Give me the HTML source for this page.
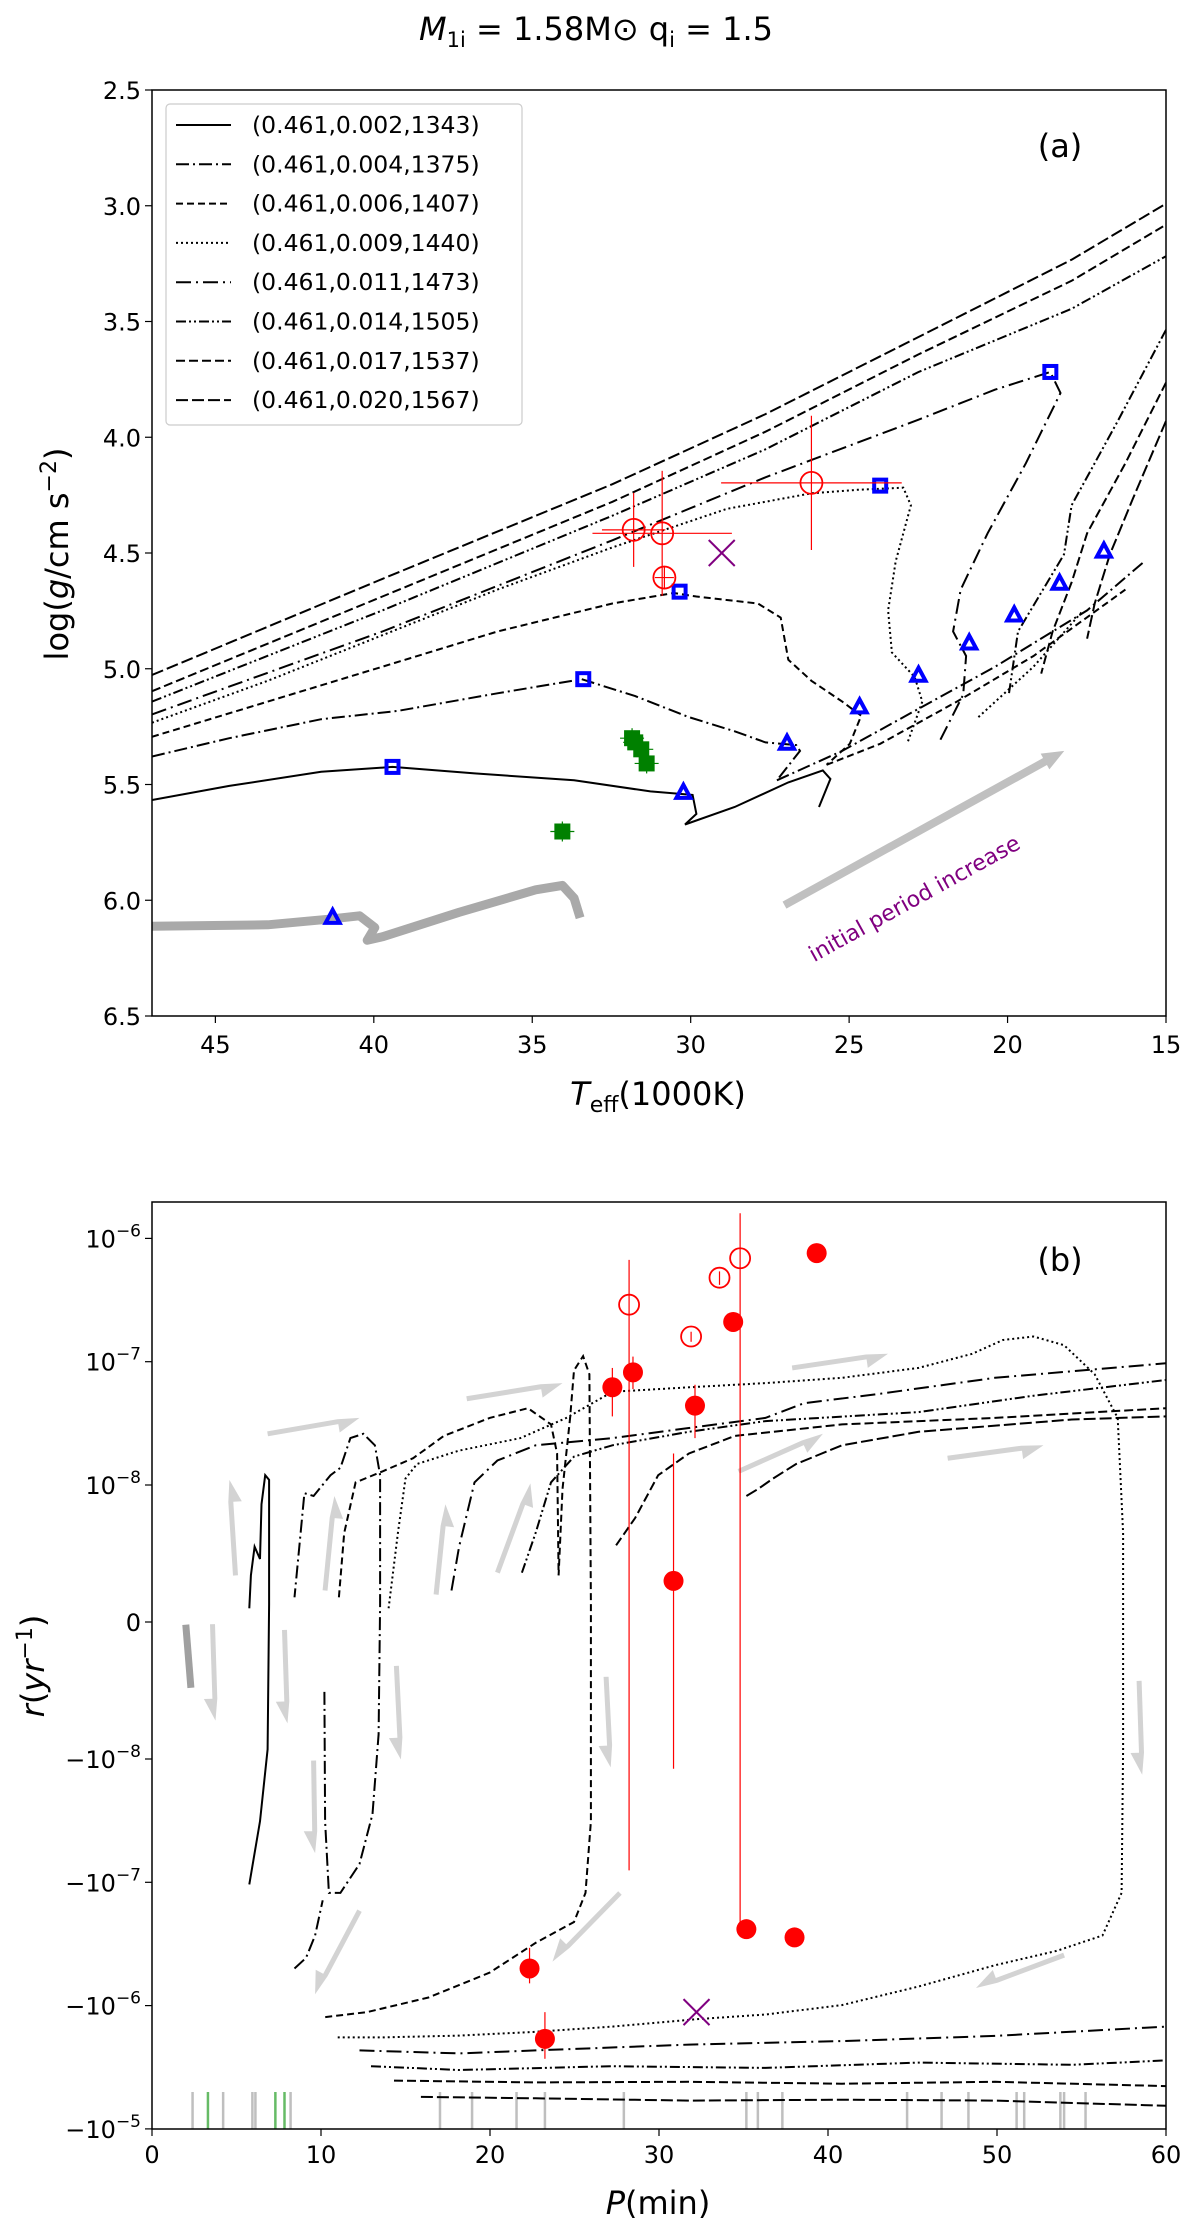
<!DOCTYPE html>
<html><head><meta charset="utf-8">
<style>
html,body{margin:0;padding:0;background:#fff;}
svg{display:block;font-family:"DejaVu Sans","Liberation Sans",sans-serif;}
</style></head>
<body>
<svg id="fig" width="1200" height="2231" viewBox="0 0 1200 2231" xmlns="http://www.w3.org/2000/svg">
<text x="596" y="40" font-size="32" text-anchor="middle"><tspan font-style="italic">M</tspan><tspan font-size="21" dy="7">1i</tspan><tspan dy="-7"> = 1.58M</tspan><tspan>⊙</tspan><tspan> q</tspan><tspan font-size="21" dy="7">i</tspan><tspan dy="-7"> = 1.5</tspan></text>
<g id="pa"></g>
<g id="pb"></g>
</svg>
<script>
// ---------- Panel (a) data: [Teff (1000K), log g] ----------
const legendLabels = ["(0.461,0.002,1343)","(0.461,0.004,1375)","(0.461,0.006,1407)","(0.461,0.009,1440)","(0.461,0.011,1473)","(0.461,0.014,1505)","(0.461,0.017,1537)","(0.461,0.020,1567)"];
const dashStyles = ["none","13,4,2,4","7,4","2,3","15,5,2,5","10,3,2,3,2,3","9,4","12,4"];
const trackA002 = [[[47,5.567],[44.56,5.506],[41.66,5.445],[39.41,5.424],[36.82,5.452],[33.68,5.482],[31.27,5.530],[29.94,5.545],[29.82,5.627],[30.18,5.673],[28.61,5.597],[26.92,5.491],[25.83,5.439],[25.59,5.476],[25.95,5.597]]];
const trackA004 = [[[47,5.379],[44.56,5.300],[41.66,5.218],[39.24,5.182],[36.10,5.106],[33.44,5.045],[31.75,5.118],[30.06,5.209],[28.61,5.270],[27.64,5.318],[26.67,5.330],[26.55,5.355],[27.28,5.482]],[[27.28,5.482],[25.22,5.355],[22.81,5.173],[20.39,4.991],[17.49,4.748],[15.68,4.536]]];
const trackA006 = [[[47,5.294],[43.35,5.142],[39.73,4.991],[36.10,4.839],[32.47,4.718],[30.54,4.673],[29.82,4.688],[27.88,4.718],[27.16,4.779],[26.92,4.961],[26.19,5.052],[25.22,5.142],[24.62,5.203],[24.98,5.324],[25.71,5.415]],[[25.71,5.415],[24.02,5.324],[21.60,5.142],[19.18,4.945],[16.28,4.658]]];
const trackA009 = [[[47,5.233],[43.35,5.052],[39.73,4.855],[36.10,4.658],[32.47,4.476],[28.85,4.309],[26.19,4.242],[24.74,4.227],[23.29,4.218],[23.05,4.294],[23.53,4.536],[23.77,4.748],[23.65,4.930],[22.93,5.036],[22.69,5.142],[23.17,5.324]],[[20.92,5.209],[19.18,4.991],[17.61,4.748]]];
const trackA011 = [[[47,5.197],[39.73,4.839],[32.47,4.445],[27.64,4.173],[22.81,3.924],[20.39,3.794],[18.65,3.718],[18.33,3.809],[19.42,4.112],[20.63,4.415],[21.48,4.658],[21.72,4.839],[21.31,4.945],[21.40,5.112],[22.13,5.309]]];
const trackA014 = [[[47,5.142],[39.73,4.748],[32.47,4.339],[27.64,4.052],[22.81,3.718],[17.98,3.445],[15,3.218]],[[15,3.536],[16.52,3.930],[17.98,4.294],[18.22,4.506],[19.67,4.839],[19.96,5.112]]];
const trackA017 = [[[47,5.097],[39.73,4.688],[32.47,4.279],[27.64,3.976],[22.81,3.642],[17.98,3.324],[15,3.082]],[[15,3.764],[16.28,4.112],[17.49,4.415],[17.98,4.627],[18.58,4.839],[18.94,5.021]]];
const trackA020 = [[[47,5.027],[39.73,4.612],[32.47,4.203],[27.64,3.900],[22.81,3.567],[17.98,3.233],[15,2.991]],[[15,3.930],[16.04,4.264],[16.77,4.506],[17.25,4.718],[17.49,4.870]]];
const tracksA = [trackA002,trackA004,trackA006,trackA009,trackA011,trackA014,trackA017,trackA020];
const grayTrackA = [[47,6.112],[43.35,6.106],[41.42,6.082],[40.45,6.067],[39.97,6.118],[40.21,6.173],[39.73,6.158],[37.31,6.052],[34.89,5.955],[34.05,5.936],[33.68,5.991],[33.49,6.076]];
const squaresA = [[39.41,5.424],[33.39,5.045],[30.35,4.667],[24.02,4.209],[18.65,3.718]];
const trianglesA = [[41.30,6.076],[30.23,5.536],[26.96,5.324],[24.67,5.167],[22.81,5.030],[21.21,4.891],[19.79,4.770],[18.36,4.633],[16.96,4.494]];
const obsT = [31.80,30.90,30.83,26.19];
const obsG = [4.400,4.415,4.606,4.197];
const obsTerr = [1.0,2.2,0.3,2.85];
const obsGerr = [0.16,0.27,0.05,0.29];
const greenT = [31.75,31.56,31.39,34.05,31.85];
const greenG = [5.318,5.348,5.409,5.703,5.300];
const crossA = [29.02,4.5];
const arrowA = [[27.04,6.021],[18.21,5.355]];
const xTicksA = [45,40,35,30,25,20,15];
const yTicksA = [2.5,3.0,3.5,4.0,4.5,5.0,5.5,6.0,6.5];

// ---------- Panel (b) data: [P (min), r (1/yr)] ----------
const trackB002 = [[[5.76,1e-9],[5.85,3.4e-9],[6.07,5.5e-9],[6.39,4.6e-9],[6.48,8.6e-9],[6.7,1.2e-8],[6.93,1.1e-8],[6.93,1.3e-9],[6.84,-0.93e-8],[6.39,-3.2e-8],[5.76,-1.04e-7]]];
const trackB004 = [[[10.2,-5.1e-9],[10.24,-3.2e-8],[10.47,-1.22e-7],[11.15,-1.22e-7],[12.28,-7.1e-8],[13.05,-2.8e-8],[13.41,-8.2e-9],[13.5,1.3e-9],[13.5,1.2e-8],[13.19,2.1e-8],[12.51,2.6e-8],[11.74,2.4e-8],[11.15,1.38e-8],[10.56,1.2e-8],[9.56,9.2e-9],[9.02,9.4e-9],[8.43,1.8e-9]],[[8.43,-5e-7],[9.11,-4.1e-7],[9.65,-2.7e-7],[10.1,-1.4e-7]]];
const trackB006 = [[[11.06,1.8e-9],[11.37,6.5e-9],[12.05,1.05e-8],[13.64,1.29e-8],[15.45,1.65e-8],[17.27,2.5e-8],[19.98,3.5e-8],[22.25,4.2e-8],[23.61,3.1e-8],[23.97,1.8e-8],[24.06,3.4e-9],[24.29,9.7e-9],[24.74,3.5e-8],[24.97,8.5e-8],[25.51,1.11e-7],[25.88,7.9e-8],[25.97,1.3e-9],[25.97,-3.2e-8],[25.65,-1.22e-7],[24.97,-2.1e-7],[22.7,-3.1e-7],[19.98,-5.4e-7],[16.36,-8.6e-7],[12.73,-1.13e-6],[10.24,-1.24e-6]]];
const trackB009 = [[[14.0,1e-9],[14.55,6.5e-9],[15.0,1.13e-8],[15.68,1.48e-8],[18.17,1.9e-8],[21.8,2.4e-8],[24.52,3.5e-8],[27.24,5.7e-8],[31.77,6.2e-8],[36.3,6.7e-8],[40.83,7.4e-8],[45.36,8.9e-8],[48.53,1.16e-7],[50.35,1.5e-7],[52.16,1.6e-7],[53.97,1.36e-7],[55.78,7.9e-8],[57.14,3.5e-8],[57.46,6.5e-9],[57.46,-9.3e-9],[57.37,-1.22e-7],[56.24,-2.7e-7],[53.52,-3.6e-7],[49.89,-4.7e-7],[45.36,-7e-7],[40.83,-9.9e-7],[36.3,-1.18e-6],[32.22,-1.29e-6],[27.24,-1.48e-6],[22.7,-1.63e-6],[18.17,-1.75e-6],[13.64,-1.81e-6],[10.92,-1.81e-6]]];
const trackB011 = [[[17.72,2.3e-9],[18.17,5.5e-9],[19.08,1.05e-8],[20.44,1.58e-8],[22.7,2.1e-8],[27.24,2.4e-8],[31.77,2.9e-8],[36.3,3.5e-8],[38.56,4.6e-8],[43.1,5.5e-8],[49.89,7.4e-8],[60,9.7e-8]],[[12.28,-2.31e-6],[18.17,-2.44e-6],[22.7,-2.31e-6],[31.77,-2.07e-6],[40.83,-1.94e-6],[49.89,-1.76e-6],[60,-1.48e-6]]];
const trackB014 = [[[21.89,3.6e-9],[22.7,6.5e-9],[23.61,1.05e-8],[24.97,1.7e-8],[27.24,2.1e-8],[31.77,2.7e-8],[36.3,3.3e-8],[45.36,3.9e-8],[52.16,5.3e-8],[60,7.1e-8]],[[12.96,-3.1e-6],[18.17,-3.33e-6],[27.24,-3.1e-6],[36.3,-3.2e-6],[45.36,-2.9e-6],[54.43,-3.02e-6],[60,-2.78e-6]]];
const trackB017 = [[[27.46,5.6e-9],[28.59,7.6e-9],[29.95,1.2e-8],[31.77,1.8e-8],[34.49,2.5e-8],[40.83,3.1e-8],[49.89,3.5e-8],[60,4.2e-8]],[[14.32,-4.06e-6],[22.7,-4.2e-6],[31.77,-4.15e-6],[40.83,-4.3e-6],[49.89,-4.15e-6],[60,-4.5e-6]]];
const trackB020 = [[[35.17,9.2e-9],[35.85,9.7e-9],[36.75,1.13e-8],[38.11,1.48e-8],[40.83,2.1e-8],[45.36,2.7e-8],[54.43,3.4e-8],[60,3.6e-8]],[[15.91,-5.5e-6],[22.7,-5.65e-6],[31.77,-5.9e-6],[40.83,-5.8e-6],[49.89,-5.9e-6],[60,-6.5e-6]]];
const tracksB = [trackB002,trackB004,trackB006,trackB009,trackB011,trackB014,trackB017,trackB020];
const graySegB = [[2.0,-2e-10],[2.3,-4.8e-9]];
const filledP = [27.24,28.46,32.13,34.39,39.33,30.86,35.17,38.02,22.34,23.25];
const filledR = [6.2e-8,8.2e-8,4.4e-8,2.1e-7,7.6e-7,3e-9,-2.4e-7,-2.8e-7,-5e-7,-1.86e-6];
const filledHi = [8.9e-8,1.1e-7,6.5e-8,null,null,1.8e-8,null,null,-3.4e-7,-1.13e-6];
const filledLo = [3.6e-8,6e-8,2.4e-8,null,null,-1.2e-8,null,null,-6.6e-7,-2.7e-6];
const openP = [28.23,31.9,33.58,34.8];
const openR = [2.9e-7,1.6e-7,4.8e-7,6.9e-7];
const openHi = [6.7e-7,1.75e-7,5.4e-7,1.6e-6];
const openLo = [-8e-8,1.45e-7,4.2e-7,-2.4e-7];
const crossB = [32.22,-1.13e-6];
const flowArrows = [[[4.94,3.4e-9],[4.58,1.1e-8]],[[10.24,2.3e-9],[10.79,9.2e-9]],[[16.81,2e-9],[17.36,8.6e-9]],[[20.44,3.6e-9],[22.39,1.03e-8]],[[6.84,2.6e-8],[12.28,3.5e-8]],[[18.62,5e-8],[24.29,6.7e-8]],[[37.88,8.9e-8],[43.55,1.16e-7]],[[34.71,1.29e-8],[39.7,2.6e-8]],[[47.08,1.65e-8],[52.75,2.1e-8]],[[3.58,-1.6e-10],[3.76,-7.2e-9]],[[7.84,-5.8e-10],[8.02,-7.4e-9]],[[14.46,-3.2e-9],[14.73,-1.01e-8]],[[26.87,-4e-9],[27.14,-1.17e-8]],[[58.41,-4.3e-9],[58.59,-1.34e-8]],[[9.56,-1.03e-8],[9.65,-5.8e-8]],[[12.28,-1.7e-7],[9.65,-8.1e-7]],[[27.69,-1.22e-7],[23.7,-4.4e-7]],[[53.97,-3.9e-7],[48.76,-7.2e-7]]];
const rugGray = [2.4,4.21,5.94,6.12,8.2,17.04,18.94,21.57,23.25,27.92,35.17,35.85,37.3,44.68,46.72,48.31,51.16,51.61,53.75,53.97,55.24];
const rugGreen = [3.31,7.3,7.84];
const xTicksB = [0,10,20,30,40,50,60];
const yTicksB = [1e-6,1e-7,1e-8,0,-1e-8,-1e-7,-1e-6,-1e-5];
const yTickLabelsB = ["10|−6","10|−7","10|−8","0","−10|−8","−10|−7","−10|−6","−10|−5"];

// ---------- helpers ----------
const NS = "http://www.w3.org/2000/svg";
function mk(parent, tag, attrs, text){
  const e = document.createElementNS(NS, tag);
  for (const k in attrs) e.setAttribute(k, attrs[k]);
  if (text !== undefined) e.textContent = text;
  parent.appendChild(e);
  return e;
}
const AL=152, AR=1166, AT=90, AB=1016;
const xa = T => AL + (47 - T) * (AR-AL)/32;
const ya = g => AT + (g - 2.5) * (AB-AT)/4;
const BL=152, BR=1166, BT=1202, BB=2129, BC=1622, LINH=137, DEC=123.3, LT=1e-8;
const xb = P => BL + P/60*(BR-BL);
function yb(r){
  const a = Math.abs(r);
  if (a <= LT) return BC - r/LT*LINH;
  const off = LINH + DEC*(Math.log10(a) - Math.log10(LT));
  return r > 0 ? BC - off : BC + off;
}
function pathD(pts, fx, fy){ return pts.map((p,i)=>(i?'L':'M')+fx(p[0]).toFixed(1)+','+fy(p[1]).toFixed(1)).join(''); }

function halfArrow(g, x1,y1,x2,y2, w, hl, hw, fill){
  const dx=x2-x1, dy=y2-y1, L=Math.hypot(dx,dy), ux=dx/L, uy=dy/L, nx=-uy, ny=ux;
  const bx=x2-ux*hl, by=y2-uy*hl;
  const pts=[[x1+nx*w/2,y1+ny*w/2],[bx+nx*w/2,by+ny*w/2],[bx+nx*hw,by+ny*hw],[x2,y2],[bx-nx*w/2,by-ny*w/2],[x1-nx*w/2,y1-ny*w/2]];
  return mk(g,'polygon',{points:pts.map(p=>p[0].toFixed(1)+','+p[1].toFixed(1)).join(' '),fill:fill});
}

// ================= PANEL A =================
const pa = document.getElementById('pa');
const clipA = mk(pa,'clipPath',{id:'clipA'}); mk(clipA,'rect',{x:AL,y:AT,width:AR-AL,height:AB-AT});
const plotA = mk(pa,'g',{'clip-path':'url(#clipA)'});



const gt = mk(plotA,'path',{d:pathD(grayTrackA,xa,ya),fill:'none',stroke:'#a9a9a9','stroke-width':9,'stroke-linejoin':'round'});



tracksA.forEach((segs,i)=>{
  segs.forEach(seg=>{
    const p = mk(plotA,'path',{d:pathD(seg,xa,ya),fill:'none',stroke:'#000','stroke-width':2,'stroke-dasharray':dashStyles[i]});
    
    
  });
});

(function(){
  const x1=xa(arrowA[0][0]), y1=ya(arrowA[0][1]), x2=xa(arrowA[1][0]), y2=ya(arrowA[1][1]);
  const dx=x2-x1, dy=y2-y1, L=Math.hypot(dx,dy), ux=dx/L, uy=dy/L, nx=-uy, ny=ux, hl=22, hw=9, w=8;
  const bx=x2-ux*hl, by=y2-uy*hl;
  const pts=[[x1+nx*w/2,y1+ny*w/2],[bx+nx*w/2,by+ny*w/2],[bx+nx*hw,by+ny*hw],[x2,y2],[bx-nx*hw,by-ny*hw],[bx-nx*w/2,by-ny*w/2],[x1-nx*w/2,y1-ny*w/2]];
  const a = mk(plotA,'polygon',{points:pts.map(p=>p.join(',')).join(' '),fill:'#c0c0c0'});
  
  
  const ang = Math.atan2(dy,dx)*180/Math.PI;
  const t = mk(plotA,'text',{x:918,y:905,'font-size':22,fill:'#800080','text-anchor':'middle',transform:`rotate(${ang.toFixed(1)} 918 905)`},'initial period increase');
  
  
})();

greenT.forEach((T,i)=>{
  const cx=xa(T), cy=ya(greenG[i]);
  const g = mk(plotA,'g',{});
  
  
  mk(g,'line',{x1:cx-12,y1:cy,x2:cx+12,y2:cy,stroke:'#008000','stroke-width':1.2});
  mk(g,'line',{x1:cx,y1:cy-10,x2:cx,y2:cy+10,stroke:'#008000','stroke-width':1.2});
  mk(g,'rect',{x:cx-8,y:cy-8,width:16,height:16,fill:'#008000'});
});

squaresA.forEach(p=>{
  const r = mk(plotA,'rect',{x:xa(p[0])-6,y:ya(p[1])-6,width:12,height:12,fill:'none',stroke:'#0000ff','stroke-width':4});
  
  
});
trianglesA.forEach(p=>{
  const cx=xa(p[0]), cy=ya(p[1]);
  const t = mk(plotA,'polygon',{points:`${cx},${cy-8} ${cx+7},${cy+5} ${cx-7},${cy+5}`,fill:'none',stroke:'#0000ff','stroke-width':4,'stroke-linejoin':'miter'});
  
  
});

obsT.forEach((T,i)=>{
  const cx=xa(T), cy=ya(obsG[i]);
  const g = mk(plotA,'g',{});
  
  
  mk(g,'line',{x1:xa(T+obsTerr[i]),y1:cy,x2:xa(T-obsTerr[i]),y2:cy,stroke:'#ff0000','stroke-width':1.2});
  mk(g,'line',{x1:cx,y1:ya(obsG[i]-obsGerr[i]),x2:cx,y2:ya(obsG[i]+obsGerr[i]),stroke:'#ff0000','stroke-width':1.2});
  mk(g,'circle',{cx:cx,cy:cy,r:11,fill:'none',stroke:'#ff0000','stroke-width':1.8});
});
(function(){
  const cx=xa(crossA[0]), cy=ya(crossA[1]);
  const g = mk(plotA,'g',{stroke:'#800080','stroke-width':2});
  
  
  mk(g,'line',{x1:cx-13,y1:cy-13,x2:cx+13,y2:cy+13});
  mk(g,'line',{x1:cx-13,y1:cy+13,x2:cx+13,y2:cy-13});
})();

const frameA = mk(pa,'rect',{x:AL,y:AT,width:AR-AL,height:AB-AT,fill:'none',stroke:'#000','stroke-width':1.5});


xTicksA.forEach(v=>{
  mk(pa,'line',{x1:xa(v),y1:AB,x2:xa(v),y2:AB+7,stroke:'#000','stroke-width':1.2});
  const t = mk(pa,'text',{x:xa(v),y:AB+37,'font-size':24,'text-anchor':'middle'},String(v));
  
  
});
yTicksA.forEach(v=>{
  mk(pa,'line',{x1:AL-7,y1:ya(v),x2:AL,y2:ya(v),stroke:'#000','stroke-width':1.2});
  const t = mk(pa,'text',{x:AL-11,y:ya(v)+9,'font-size':24,'text-anchor':'end'},v.toFixed(1));
  
  
});
(function(){
  const t = mk(pa,'text',{x:658,y:1105,'font-size':32,'text-anchor':'middle'});
  
  
  t.innerHTML = '<tspan font-style="italic">T</tspan><tspan font-size="22" dy="7">eff</tspan><tspan dy="-7">(1000K)</tspan>';
  const y = mk(pa,'text',{x:0,y:0,'font-size':32,'text-anchor':'middle',transform:'translate(68 554) rotate(-90)'});
  
  
  y.innerHTML = 'log(<tspan font-style="italic">g</tspan>/cm s<tspan font-size="22" dy="-12">−2</tspan><tspan dy="12">)</tspan>';
  const l = mk(pa,'text',{x:1060,y:157,'font-size':32,'text-anchor':'middle'},'(a)');
  
  
})();
(function(){
  const g = mk(pa,'g',{});
  
  
  mk(g,'rect',{x:166,y:104,width:356,height:321,rx:4,fill:'#fff',stroke:'#ccc','stroke-width':1.2,'fill-opacity':0.85});
  legendLabels.forEach((lab,i)=>{
    const yy = 125 + i*39.3;
    const e = mk(g,'g',{});
    
    
    mk(e,'line',{x1:176,y1:yy,x2:231,y2:yy,stroke:'#000','stroke-width':2,'stroke-dasharray':dashStyles[i]});
    mk(e,'text',{x:252,y:yy+8,'font-size':23.5},lab);
  });
})();

// ================= PANEL B =================
const pb = document.getElementById('pb');
const clipB = mk(pb,'clipPath',{id:'clipB'}); mk(clipB,'rect',{x:BL,y:BT,width:BR-BL,height:BB-BT});
const plotB = mk(pb,'g',{'clip-path':'url(#clipB)'});



flowArrows.forEach(a=>{
  const p = halfArrow(plotB, xb(a[0][0]),yb(a[0][1]),xb(a[1][0]),yb(a[1][1]), 5, 22, 11, '#d3d3d3');
  
  
});
(function(){
  const s = mk(plotB,'path',{d:pathD(graySegB,xb,yb),stroke:'#a0a0a0','stroke-width':7,fill:'none'});
  
  
})();
rugGray.forEach(P=>{
  const l = mk(plotB,'line',{x1:xb(P),y1:BB-37,x2:xb(P),y2:BB,stroke:'#bfbfbf','stroke-width':2.5});
  
  
});
rugGreen.forEach(P=>{
  const l = mk(plotB,'line',{x1:xb(P),y1:BB-37,x2:xb(P),y2:BB,stroke:'#66bb66','stroke-width':2.5});
  
  
});
tracksB.forEach((segs,i)=>{
  segs.forEach(seg=>{
    const p = mk(plotB,'path',{d:pathD(seg,xb,yb),fill:'none',stroke:'#000','stroke-width':2,'stroke-dasharray':dashStyles[i]});
    
    
  });
});
openP.forEach((P,i)=>{
  const g = mk(plotB,'g',{});
  
  
  mk(g,'line',{x1:xb(P),y1:yb(openHi[i]),x2:xb(P),y2:yb(openLo[i]),stroke:'#ff0000','stroke-width':1.2});
  mk(g,'circle',{cx:xb(P),cy:yb(openR[i]),r:10,fill:'none',stroke:'#ff0000','stroke-width':1.8});
});
filledP.forEach((P,i)=>{
  const g = mk(plotB,'g',{});
  
  
  if (filledHi[i]!==null) mk(g,'line',{x1:xb(P),y1:yb(filledHi[i]),x2:xb(P),y2:yb(filledLo[i]),stroke:'#ff0000','stroke-width':1.2});
  mk(g,'circle',{cx:xb(P),cy:yb(filledR[i]),r:10,fill:'#ff0000'});
});
(function(){
  const cx=xb(crossB[0]), cy=yb(crossB[1]);
  const g = mk(plotB,'g',{stroke:'#800080','stroke-width':2});
  
  
  mk(g,'line',{x1:cx-13,y1:cy-13,x2:cx+13,y2:cy+13});
  mk(g,'line',{x1:cx-13,y1:cy+13,x2:cx+13,y2:cy-13});
})();
const frameB = mk(pb,'rect',{x:BL,y:BT,width:BR-BL,height:BB-BT,fill:'none',stroke:'#000','stroke-width':1.5});


xTicksB.forEach(v=>{
  mk(pb,'line',{x1:xb(v),y1:BB,x2:xb(v),y2:BB+7,stroke:'#000','stroke-width':1.2});
  const t = mk(pb,'text',{x:xb(v),y:BB+34,'font-size':24,'text-anchor':'middle'},String(v));
  
  
});
yTicksB.forEach((v,i)=>{
  mk(pb,'line',{x1:BL-7,y1:yb(v),x2:BL,y2:yb(v),stroke:'#000','stroke-width':1.2});
  const parts = yTickLabelsB[i].split('|');
  const t = mk(pb,'text',{x:BL-11,y:yb(v)+9,'font-size':24,'text-anchor':'end'});
  
  
  if (parts.length===2){
    t.innerHTML = parts[0]+'<tspan font-size="17" dy="-11">'+parts[1]+'</tspan>';
  } else t.textContent = parts[0];
});
(function(){
  const t = mk(pb,'text',{x:658,y:2214,'font-size':32,'text-anchor':'middle'});
  
  
  t.innerHTML = '<tspan font-style="italic">P</tspan>(min)';
  const y = mk(pb,'text',{x:0,y:0,'font-size':32,'text-anchor':'middle',transform:'translate(44 1666) rotate(-90)'});
  
  
  y.innerHTML = '<tspan font-style="italic">r</tspan>(<tspan font-style="italic">yr</tspan><tspan font-size="22" dy="-12">−1</tspan><tspan dy="12">)</tspan>';
  const l = mk(pb,'text',{x:1060,y:1271,'font-size':32,'text-anchor':'middle'},'(b)');
  
  
})();
</script>
</body></html>
